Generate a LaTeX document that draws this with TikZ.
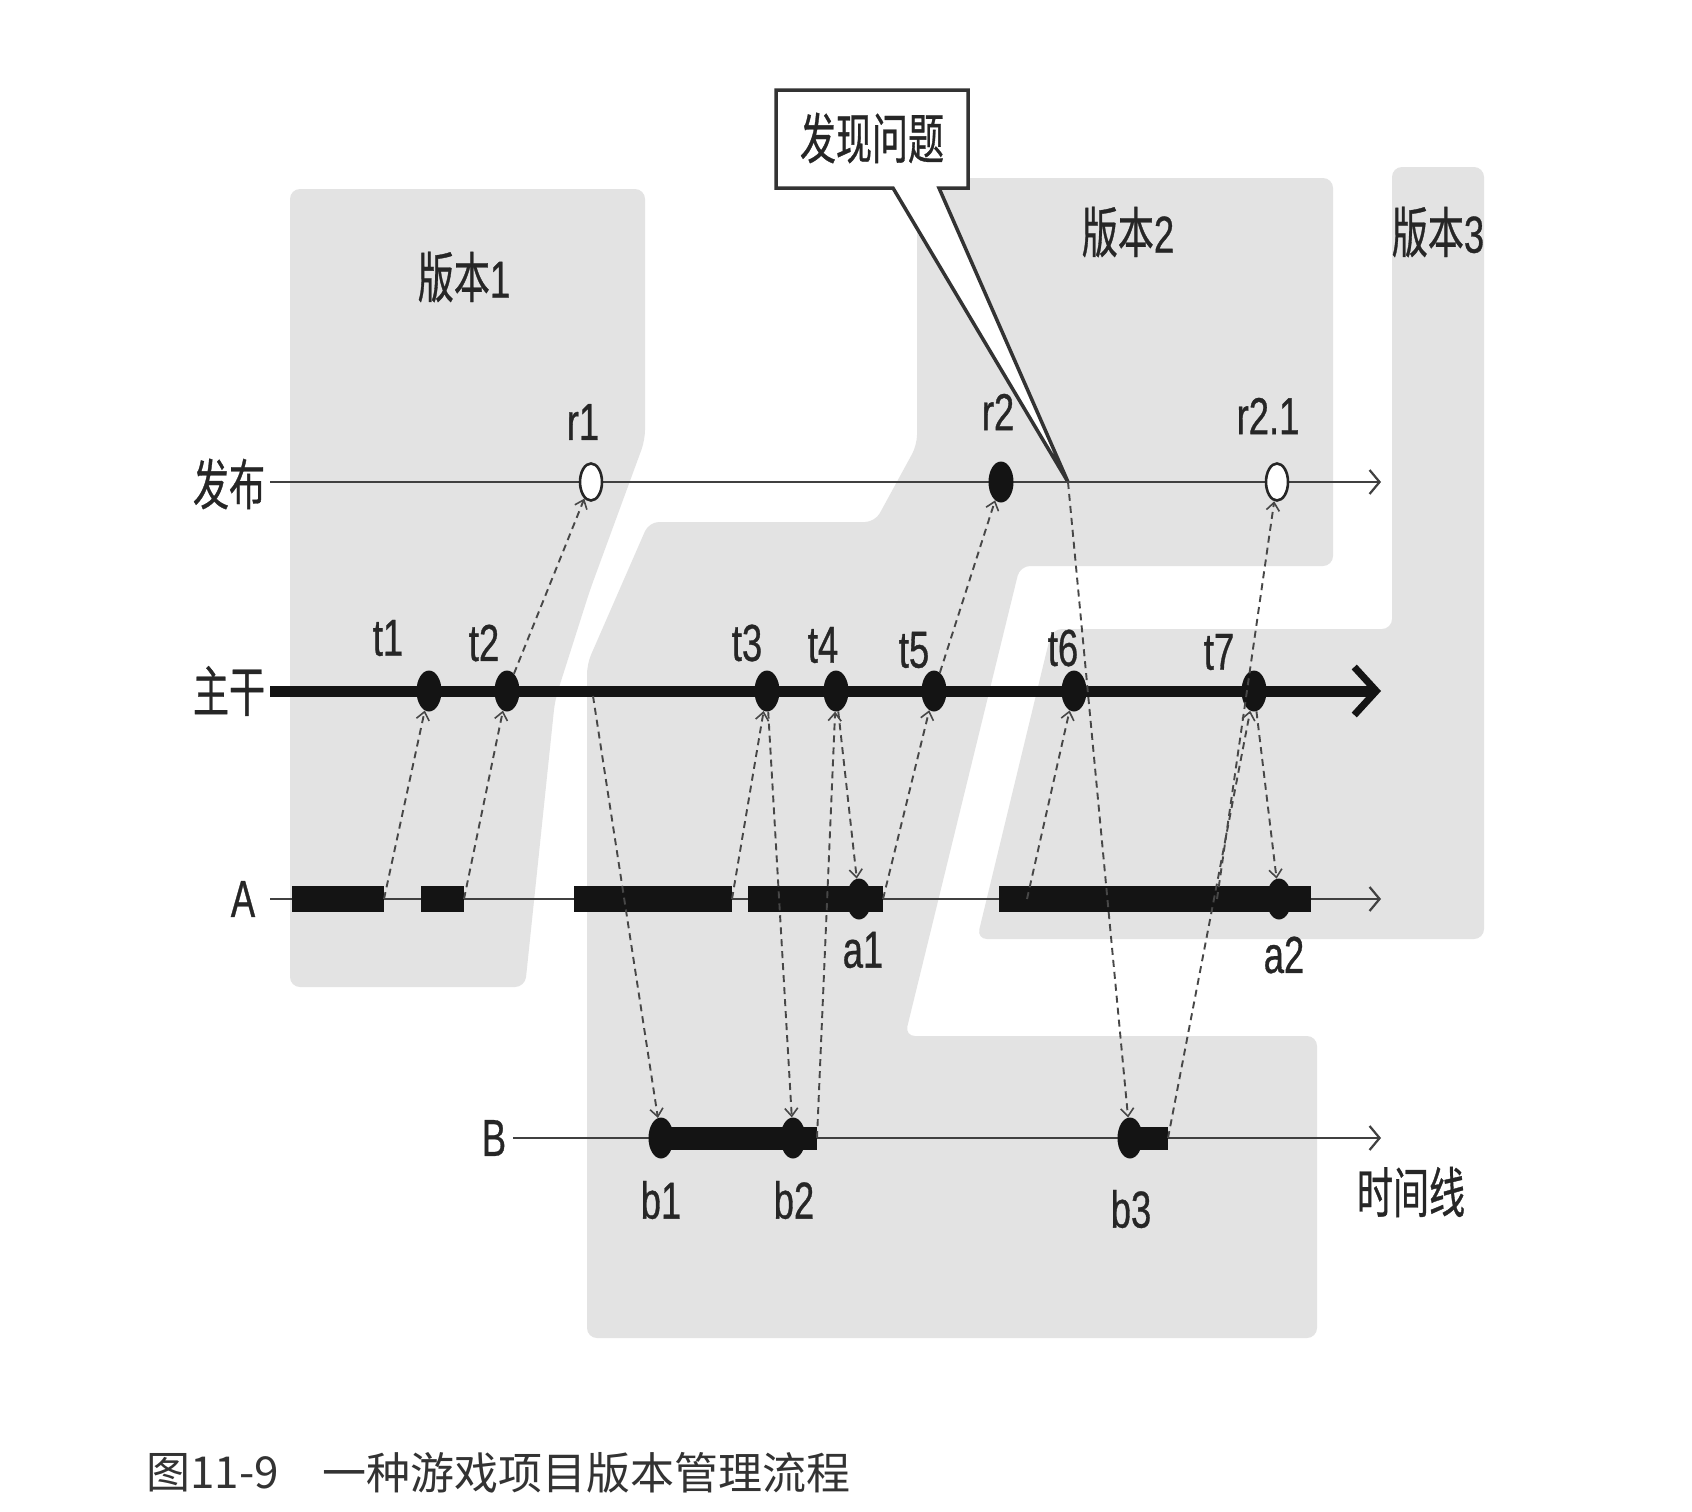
\documentclass[tikz,border=0pt]{standalone}
\usepackage{fontspec}
\setmainfont{Liberation Sans}[FakeStretch=0.7,FakeBold=0.6]
\newfontfamily\cjk{Noto Sans CJK SC}[FakeStretch=0.66,Scale=1.05,FakeBold=0.6]
\newfontfamily\capcjk{Noto Sans CJK SC}
\usetikzlibrary{arrows.meta,shapes.geometric}
\tikzset{
  bg/.style={fill=black!11,draw=none,rounded corners=10pt},
  thinaxis/.style={draw=black!75,line width=2.8pt,-{Straight Barb[length=10pt,width=24pt,line width=2.2pt]}},
  mainaxis/.style={draw=black!92,line width=11pt,-{Straight Barb[length=22pt,width=48pt,line width=7pt]}},
  barc/.style={fill=black!92},
  dotf/.style={ellipse,fill=black!92,draw=none,minimum width=25pt,minimum height=41pt,inner sep=0pt},
  dotw/.style={ellipse,fill=white,draw=black!85,line width=2.6pt,minimum width=22pt,minimum height=37pt,inner sep=0pt},
  dashc/.style={draw=black!72,line width=1.9pt,dash pattern=on 7pt off 5pt,-{Straight Barb[length=8pt,width=13pt,line width=1.6pt]}},
  lab/.style={font=\fontsize{52}{60}\selectfont,text=black!85,inner sep=0pt},
  capf/.style={font=\capcjk\fontsize{44}{50}\selectfont,text=black!80,inner sep=0pt,anchor=west},
  callout/.style={draw=black!80,line width=3.5pt,fill=white,line join=miter}
}
\begin{document}
\begin{tikzpicture}[x=1pt,y=-1pt]
\useasboundingbox (0,0) rectangle (1692,1512);
\fill[white] (0,0) rectangle (1692,1512);
% background regions
\fill[bg] (290,189) -- (645,189) -- (645,440) -- (590,590) -- (555,700) -- (525,987) -- (290,987) -- cycle;
\fill[bg] (917,178) -- (1333,178) -- (1333,566) -- (1020,566) -- (905,1036) -- (1317,1036) -- (1317,1338) -- (587,1338) -- (587,664) -- (649,522) -- (875,522) -- (917,445) -- cycle;
\fill[bg] (1392,167) -- (1484,167) -- (1484,939) -- (977,939) -- (1052,629) -- (1392,629) -- cycle;
% callout
\coordinate (P) at (1068,482);
\draw[callout] (776,90) -- (968,90) -- (968,188) -- (939,188) -- (P) -- (893,188) -- (776,188) -- cycle;
\node[lab] (cq) at (872,138) {\cjk 发现问题};
% axes
\coordinate (fbS) at (270,482); \coordinate (fbE) at (1381,482);
\coordinate (zgS) at (270,691); \coordinate (zgE) at (1381,691);
\coordinate (aS) at (270,899);  \coordinate (aE) at (1381,899);
\coordinate (bS) at (513,1138); \coordinate (bE) at (1381,1138);
\draw[thinaxis] (fbS) -- (fbE);
\draw[mainaxis] (zgS) -- (zgE);
\draw[thinaxis] (aS) -- (aE);
\draw[thinaxis] (bS) -- (bE);
% bars on A and B
\fill[barc] (292,886) rectangle (384,912);
\fill[barc] (421,886) rectangle (464,912);
\fill[barc] (574,886) rectangle (732,912);
\fill[barc] (748,886) rectangle (883,912);
\fill[barc] (999,886) rectangle (1311,912);
\fill[barc] (661,1127) rectangle (817,1150);
\fill[barc] (1130,1127) rectangle (1168,1150);
% dots
\node[dotw] (r1) at (591,482) {};
\node[dotf] (r2) at (1001,482) {};
\node[dotw] (r21) at (1277,482) {};
\node[dotf] (t1) at (429,691) {};
\node[dotf] (t2) at (507,691) {};
\node[dotf] (t3) at (767,691) {};
\node[dotf] (t4) at (836,691) {};
\node[dotf] (t5) at (934,691) {};
\node[dotf] (t6) at (1074,691) {};
\node[dotf] (t7) at (1254,691) {};
\node[dotf] (a1) at (859,899) {};
\node[dotf] (a2) at (1279,899) {};
\node[dotf] (b1) at (661,1138) {};
\node[dotf] (b2) at (793,1138) {};
\node[dotf] (b3) at (1130,1138) {};
% connector ends on the lines
\coordinate (A1e) at (384,899);
\coordinate (A2e) at (464,899);
\coordinate (ZgP) at (593,696);
\coordinate (A3e) at (732,899);
\coordinate (B1e) at (817,1138);
\coordinate (A4e) at (883,899);
\coordinate (A5s) at (1027,899);
\coordinate (B3e) at (1168,1138);
\coordinate (A5m) at (1217,899);
% dashed connectors
\draw[dashc] (A1e) -- (t1);
\draw[dashc] (A2e) -- (t2);
\draw[dashc] (t2) -- (r1);
\draw[dashc] (ZgP) -- (b1);
\draw[dashc] (A3e) -- (t3);
\draw[dashc] (t3) -- (b2);
\draw[dashc] (B1e) -- (t4);
\draw[dashc] (t4) -- (a1);
\draw[dashc] (A4e) -- (t5);
\draw[dashc] (t5) -- (r2);
\draw[dashc] (P) -- (b3);
\draw[dashc] (A5s) -- (t6);
\draw[dashc] (B3e) -- (t7);
\draw[dashc] (t7) -- (a2);
\draw[dashc] (A5m) -- (r21);
% labels
\node[lab] (Lfb) at (229,484) {\cjk 发布};
\node[lab] (Lzg) at (229,691) {\cjk 主干};
\node[lab] (LA) at (243,899) {A};
\node[lab] (LB) at (494,1138) {B};
\node[lab] (Lv1) at (464,277) {{\cjk 版本}1};
\node[lab] (Lv2) at (1128,232) {{\cjk 版本}2};
\node[lab] (Lv3) at (1438,232) {{\cjk 版本}3};
\node[lab] (Lr1) at (583,422) {r1};
\node[lab] (Lr2) at (998,412) {r2};
\node[lab] (Lr21) at (1268,416) {r2.1};
\node[lab] (Lt1) at (388,638) {t1};
\node[lab] (Lt2) at (484,643) {t2};
\node[lab] (Lt3) at (747,643) {t3};
\node[lab] (Lt4) at (823,645) {t4};
\node[lab] (Lt5) at (914,650) {t5};
\node[lab] (Lt6) at (1063,648) {t6};
\node[lab] (Lt7) at (1219,652) {t7};
\node[lab] (La1) at (863,950) {a1};
\node[lab] (La2) at (1284,955) {a2};
\node[lab] (Lb1) at (661,1200) {b1};
\node[lab] (Lb2) at (794,1200) {b2};
\node[lab] (Lb3) at (1131,1209) {b3};
\node[lab] (Ltl) at (1411,1192) {\cjk 时间线};
% caption
\node[capf] (cap1) at (146,1473) {图11-9};
\node[capf] (cap2) at (322,1473) {一种游戏项目版本管理流程};
\end{tikzpicture}
\end{document}
